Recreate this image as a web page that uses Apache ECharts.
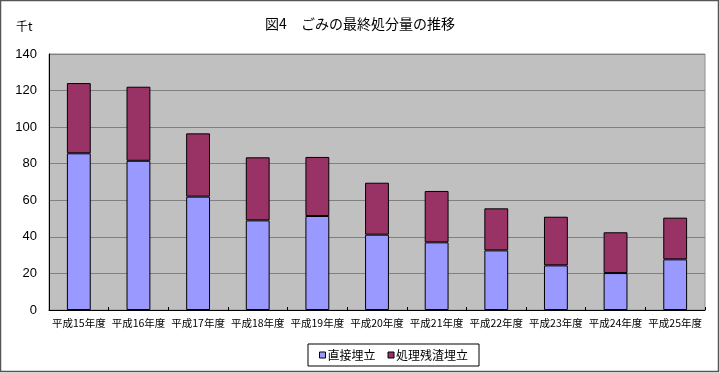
<!DOCTYPE html>
<html><head><meta charset="utf-8">
<script src="https://cdn.jsdelivr.net/npm/echarts@6/dist/echarts.min.js"></script>
<style>html,body{margin:0;padding:0;background:#fff}#c{width:720px;height:373px}</style>
</head><body><div id="c"></div>
<script>
const categories = ['平成15年度','平成16年度','平成17年度','平成18年度','平成19年度','平成20年度','平成21年度','平成22年度','平成23年度','平成24年度','平成25年度'];
const directLandfill = [85.7, 81.6, 62.0, 49.0, 51.4, 41.2, 37.0, 32.6, 24.4, 20.2, 27.7];
const residueLandfill = [38.4, 40.5, 34.6, 34.5, 32.3, 28.4, 28.1, 23.0, 26.6, 22.3, 22.8];
const seriesNames = ['直接埋立', '処理残渣埋立'];
const titleText = '図4　ごみの最終処分量の推移';
const unitText = '千t';

const font = '"Noto Sans CJK JP", sans-serif';
const chart = echarts.init(document.getElementById('c'), null, {renderer: 'canvas'});
chart.setOption({
  animation: false,
  backgroundColor: '#fff',
  title: {text: titleText, left: 'center', top: 12,
    textStyle: {fontFamily: font, fontSize: 14, fontWeight: 'normal', color: '#000'}},
  graphic: [
    {type: 'rect', shape: {x: 0.5, y: 0.5, width: 718, height: 371}, style: {fill: 'none', stroke: '#555', lineWidth: 1.5}, silent: true},
    {type: 'text', left: 16, top: 20, style: {text: unitText, font: '12px ' + font, fill: '#000'}}
  ],
  legend: {
    data: seriesNames, top: 344, left: 308,
    itemWidth: 6, itemHeight: 6, itemGap: 12,
    icon: 'rect',
    itemStyle: {borderColor: '#000', borderWidth: 1},
    borderColor: '#000', borderWidth: 1, padding: [5, 11, 5, 11],
    backgroundColor: '#fff',
    textStyle: {fontFamily: font, fontSize: 12, color: '#000', padding: [0, 0, 0, -3]}
  },
  grid: {left: 49, right: 15, top: 54, bottom: 63, show: true, backgroundColor: '#C0C0C0', borderColor: '#909090', borderWidth: 1},
  xAxis: {
    type: 'category', data: categories,
    axisLine: {lineStyle: {color: '#000', width: 1}},
    axisTick: {show: true, inside: true, length: 3, lineStyle: {color: '#000'}},
    axisLabel: {fontFamily: font, fontSize: 10.5, color: '#000', interval: 0, margin: 8}
  },
  yAxis: {
    type: 'value', min: 0, max: 140, interval: 20,
    axisLine: {show: true, lineStyle: {color: '#000'}},
    axisTick: {show: false},
    splitLine: {lineStyle: {color: '#808080', width: 1}},
    axisLabel: {fontFamily: 'Arial, "Liberation Sans", sans-serif', fontSize: 13, color: '#000', margin: 12}
  },
  series: [
    {name: seriesNames[0], type: 'bar', stack: 'a', data: directLandfill, barWidth: '40%',
      itemStyle: {color: '#9999FF', borderColor: '#000', borderWidth: 1}},
    {name: seriesNames[1], type: 'bar', stack: 'a', data: residueLandfill, barWidth: '40%',
      itemStyle: {color: '#993366', borderColor: '#000', borderWidth: 1}}
  ]
});
</script></body></html>
